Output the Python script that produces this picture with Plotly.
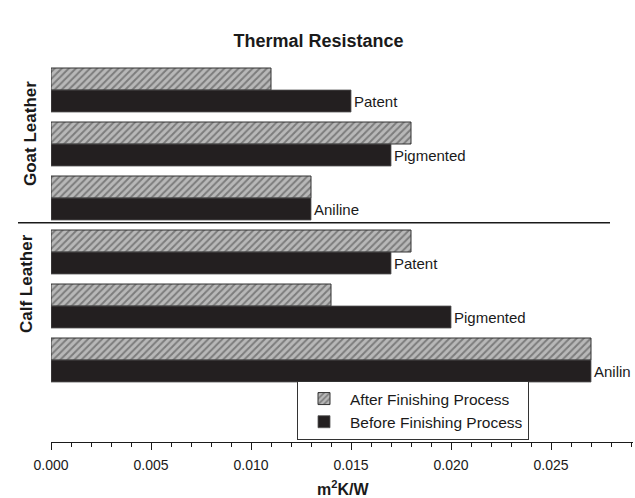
import plotly.graph_objects as go

# ---- data (top group first) ----
groups = ["Goat Patent", "Goat Pigmented", "Goat Aniline",
          "Calf Patent", "Calf Pigmented", "Calf Anilin"]
bar_labels = ["Patent", "Pigmented", "Aniline", "Patent", "Pigmented", "Anilin"]
after_vals = [0.011, 0.018, 0.013, 0.018, 0.014, 0.027]
before_vals = [0.015, 0.017, 0.013, 0.017, 0.020, 0.027]
x_ticks = [0.000, 0.005, 0.010, 0.015, 0.020, 0.025]
section_titles = ["Goat Leather", "Calf Leather"]

n = len(groups)
ypos = [n - 1 - i for i in range(n)]  # top group gets highest value
bar_w = 22 / 54

FONT = "Liberation Sans, Arial, sans-serif"

fig = go.Figure()
fig.add_trace(go.Bar(
    name="After Finishing Process",
    x=after_vals, y=ypos, orientation="h",
    width=bar_w, offset=0,
    marker=dict(color="#b8b8b8",
                line=dict(color="#333333", width=1),
                pattern=dict(shape="/", fgcolor="#404040", bgcolor="#b8b8b8",
                             size=5, solidity=0.4, fillmode="overlay")),
))
fig.add_trace(go.Bar(
    name="Before Finishing Process",
    x=before_vals, y=ypos, orientation="h",
    width=bar_w, offset=-bar_w,
    marker=dict(color="#231f20", line=dict(color="#555555", width=0.8)),
    text=bar_labels, textposition="outside", cliponaxis=False,
    constraintext="none",
    textfont=dict(family=FONT, size=15, color="#1a1a1a"),
))

fig.update_layout(
    width=635, height=498,
    margin=dict(l=51, r=2, t=65, b=56),
    paper_bgcolor="white", plot_bgcolor="white",
    barmode="overlay",
    font=dict(family=FONT, color="#1a1a1a"),
    title=dict(text="<b>Thermal Resistance</b>", x=318.5 / 635, xanchor="center",
               y=1 - 40.5 / 498, yanchor="middle",
               font=dict(family=FONT, size=18, color="#1a1a1a")),
    xaxis=dict(range=[0, 0.0291], tickvals=x_ticks, tickformat=".3f",
               showgrid=False, zeroline=False, showline=True,
               linecolor="#1a1a1a", linewidth=1.2,
               ticks="outside", ticklen=7, tickwidth=1.2, tickcolor="#1a1a1a",
               ticklabelstandoff=3,
               minor=dict(dtick=0.001, ticks="outside", ticklen=3.5,
                          tickwidth=1, tickcolor="#1a1a1a"),
               tickfont=dict(family=FONT, size=14, color="#1a1a1a")),
    yaxis=dict(range=[-1.5185, 5.463], visible=False),
    legend=dict(x=(297 - 51) / 582, y=(442 - 440) / 377,
                xanchor="left", yanchor="bottom",
                bgcolor="white", bordercolor="#333333", borderwidth=1,
                itemwidth=42,
                font=dict(family=FONT, size=15.5, color="#1a1a1a"),
                traceorder="normal"),
    showlegend=True,
)

# separator line between the two leather types
fig.add_shape(type="line", xref="paper", yref="y",
              x0=(18 - 51) / 582, x1=(610 - 51) / 582, y0=2.54, y1=2.54,
              line=dict(color="#1a1a1a", width=1.5))

# section titles
fig.add_annotation(text="<b>" + section_titles[0] + "</b>", textangle=-90,
                   xref="paper", yref="paper",
                   x=(30 - 51) / 582, y=(442 - 134) / 377,
                   xanchor="center", yanchor="middle", showarrow=False,
                   font=dict(family=FONT, size=17, color="#1a1a1a"))
fig.add_annotation(text="<b>" + section_titles[1] + "</b>", textangle=-90,
                   xref="paper", yref="paper",
                   x=(26 - 51) / 582, y=(442 - 284) / 377,
                   xanchor="center", yanchor="middle", showarrow=False,
                   font=dict(family=FONT, size=17, color="#1a1a1a"))

# x-axis title
fig.add_annotation(text="<b>m<sup>2</sup>K/W</b>",
                   xref="paper", yref="paper",
                   x=(343 - 51) / 582, y=(442 - 488) / 377,
                   xanchor="center", yanchor="middle", showarrow=False,
                   font=dict(family=FONT, size=16, color="#1a1a1a"))

fig.write_html("out.html",
               config={"displayModeBar": False},
               post_script="document.body.style.margin='0';"
                           "document.body.style.padding='0';"
                           "document.body.style.overflow='hidden';")
